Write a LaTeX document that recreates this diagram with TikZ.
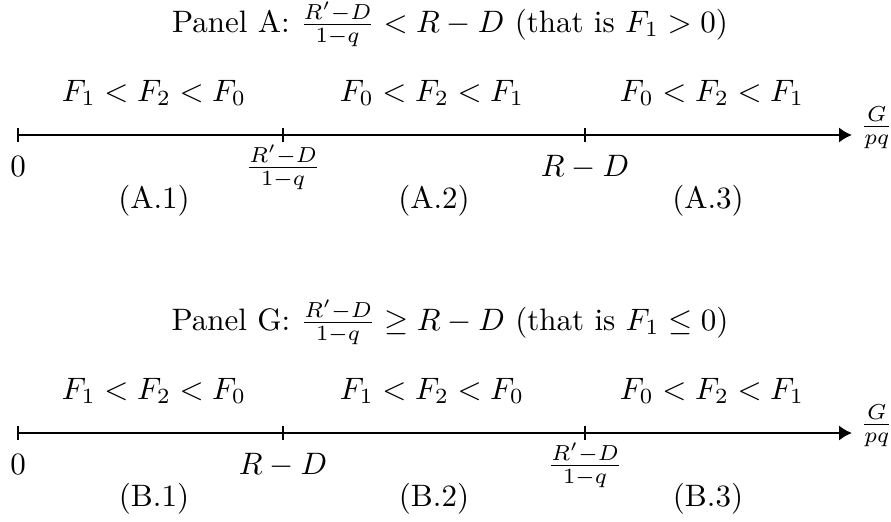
\documentclass[tikz,border=0pt]{standalone}
\usetikzlibrary{arrows.meta}
\begin{document}
\begin{tikzpicture}[x=0.3226pt,y=-0.3226pt,
  axisline/.style={line width=0.9pt,-{Latex[length=4.2pt,width=5pt]}},
  tickmark/.style={line width=0.4pt},
  lbl/.style={anchor=base,inner sep=0pt},
  endlbl/.style={anchor=west,inner sep=0pt}]
\useasboundingbox (0,0) rectangle (891,521);
% ---------- Panel A ----------
\node[lbl] (ta) at (450,32) {Panel A: $\frac{R'-D}{1-q} < R-D$ (that is $F_1>0$)};
\node[lbl] (fa1) at (154,101) {$F_1<F_2<F_0$};
\node[lbl] (fa2) at (432,101) {$F_0<F_2<F_1$};
\node[lbl] (fa3) at (712,101) {$F_0<F_2<F_1$};
\coordinate (a0) at (18,135);
\coordinate (a1) at (283,135);
\coordinate (a2) at (585,135);
\coordinate (aend) at (852,135);
\draw[axisline] (a0) -- (aend);
\foreach \t in {a0,a1,a2}{\draw[tickmark] ([yshift=2.4pt]\t) -- ([yshift=-2.4pt]\t);}
\node[endlbl] (ga) at (860,128) {$\frac{G}{pq}$};
\node[lbl] (la0) at (18,176) {$0$};
\node[lbl] (la1) at (283,175) {$\frac{R'-D}{1-q}$};
\node[lbl] (la2) at (585,176) {$R-D$};
\node[lbl] (ra1) at (154,208) {(A.1)};
\node[lbl] (ra2) at (434,208) {(A.2)};
\node[lbl] (ra3) at (708,208) {(A.3)};
% ---------- Panel G ----------
\node[lbl] (tb) at (450,330) {Panel G: $\frac{R'-D}{1-q} \geq R-D$ (that is $F_1\leq 0$)};
\node[lbl] (fb1) at (154,399) {$F_1<F_2<F_0$};
\node[lbl] (fb2) at (432,399) {$F_1<F_2<F_0$};
\node[lbl] (fb3) at (712,399) {$F_0<F_2<F_1$};
\coordinate (b0) at (18,433);
\coordinate (b1) at (283,433);
\coordinate (b2) at (585,433);
\coordinate (bend) at (852,433);
\draw[axisline] (b0) -- (bend);
\foreach \t in {b0,b1,b2}{\draw[tickmark] ([yshift=2.4pt]\t) -- ([yshift=-2.4pt]\t);}
\node[endlbl] (gb) at (860,426) {$\frac{G}{pq}$};
\node[lbl] (lb0) at (18,474) {$0$};
\node[lbl] (lb1) at (283,474) {$R-D$};
\node[lbl] (lb2) at (585,473) {$\frac{R'-D}{1-q}$};
\node[lbl] (rb1) at (154,506) {(B.1)};
\node[lbl] (rb2) at (434,506) {(B.2)};
\node[lbl] (rb3) at (708,506) {(B.3)};
\end{tikzpicture}
\end{document}
